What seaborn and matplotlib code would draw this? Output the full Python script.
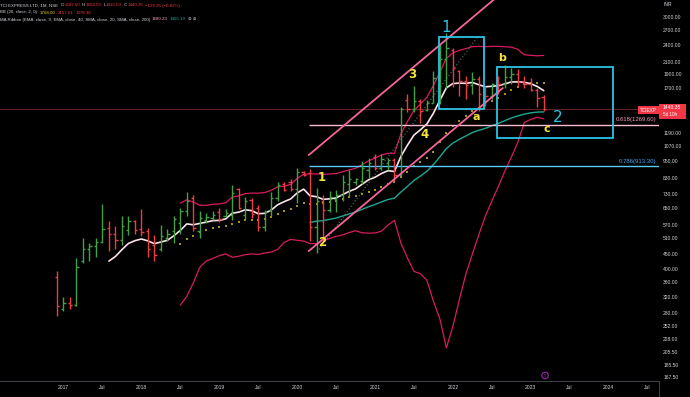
import numpy as np
import pandas as pd
import matplotlib
matplotlib.use("Agg")
import matplotlib.pyplot as plt
import matplotlib.patches as patches
import seaborn as sns

# monthly OHLC, Dec 2016 .. Mar 2023
months = pd.period_range("2016-12", "2023-03", freq="M")
opens = [375, 290, 305, 300, 425, 470, 478, 495, 555, 530, 505, 545, 585, 550, 540, 485, 470, 510, 540, 575,
         635, 705, 540, 590, 600, 630, 612, 615, 755, 615, 695, 650, 560, 640, 705, 790, 800, 760, 870, 860,
         560, 690, 640, 700, 720, 790, 800, 810, 880, 980, 900, 935, 955, 850, 1540, 1440, 1530, 1430, 1510, 1850,
         2150, 2300, 1950, 1800, 1750, 1830, 1650, 1600, 1800, 1760, 1860, 1900, 1790, 1760, 1680, 1587.5]
highs = [392, 318, 320, 435, 510, 490, 510, 670, 585, 565, 610, 610, 590, 645, 553, 523, 567, 550, 611, 650,
         740, 720, 635, 625, 635, 650, 645, 780, 765, 710, 706, 665, 642, 740, 800, 800, 820, 895, 875, 890,
         765, 720, 745, 750, 845, 880, 830, 950, 975, 1005, 1000, 970, 970, 1460, 1620, 1730, 1560, 1550, 1950, 2420,
         2650, 2350, 1970, 1880, 1940, 1880, 1730, 1770, 1880, 2040, 2000, 1980, 1880, 1850, 1700, 1604]
lows = [273, 284, 290, 296, 420, 425, 440, 493, 460, 470, 485, 525, 530, 520, 440, 425, 462, 499, 493, 530,
        610, 540, 510, 575, 593, 583, 606, 590, 645, 590, 600, 540, 540, 611, 690, 745, 745, 675, 840, 500,
        455, 505, 630, 630, 690, 715, 780, 790, 830, 880, 880, 880, 810, 840, 1400, 1400, 1290, 1410, 1510, 1500,
        1700, 1720, 1590, 1560, 1620, 1415, 1470, 1560, 1620, 1700, 1760, 1720, 1700, 1660, 1460, 1415]
closes = [296, 305, 298, 405, 470, 478, 495, 550, 530, 505, 565, 585, 545, 535, 470, 445, 520, 530, 595, 635,
          690, 553, 600, 605, 615, 595, 625, 735, 650, 690, 620, 560, 630, 705, 780, 752, 760, 870, 850, 560,
          690, 640, 710, 725, 800, 820, 820, 900, 930, 900, 960, 955, 850, 1440, 1440, 1530, 1420, 1510, 1850, 2150,
          2350, 2000, 1800, 1750, 1830, 1620, 1600, 1760, 1760, 1860, 1900, 1790, 1760, 1680, 1569.5, 1440.35]

year_labels = ["2017", "Jul", "2018", "Jul", "2019", "Jul", "2020", "Jul", "2021", "Jul",
               "2022", "Jul", "2023", "Jul", "2024", "Jul"]
price_ticks = [3000, 2700, 2400, 2100, 1900, 1700, 1190, 1070, 950, 830, 730, 650, 570, 510,
               450, 400, 360, 320, 280, 252, 228, 205.5, 185.5, 167.5]

BG = "black"
TXT = "#d1d4dc"
GREEN = "#43a047"
RED = "#ef3b45"
HRED = "#f23645"


def ema_tv(values, n):
    s = pd.Series(values, dtype=float)
    out = pd.Series(np.nan, index=s.index)
    out.iloc[n - 1] = s.iloc[:n].mean()
    a = 2 / (n + 1)
    for i in range(n, len(s)):
        out.iloc[i] = a * s.iloc[i] + (1 - a) * out.iloc[i - 1]
    return out


df = pd.DataFrame({"open": opens, "high": highs, "low": lows, "close": closes})
# month index relative to Jan 2017
df["m"] = [(p.year - 2017) * 12 + p.month - 1 for p in months]
df["ema9"] = ema_tv(closes, 9)
df["ema40"] = ema_tv(closes, 40)
df["basis"] = df["close"].rolling(20).mean()
dev = df["close"].rolling(20).std(ddof=0)
df["upper"] = df["basis"] + 2 * dev
df["lower"] = df["basis"] - 2 * dev
df.loc[df["lower"] <= 0, "lower"] = np.nan

sns.set_style("dark")
plt.rcParams["font.family"] = ["Liberation Sans", "DejaVu Sans"]

fig = plt.figure(figsize=(6.9, 3.97), dpi=100, facecolor=BG)
ax = fig.add_axes([0, 16 / 397, 659 / 690, 381 / 397])
ax.set_facecolor(BG)
ax.set_yscale("log")
ax.set_ylim(162.7, 3445)
ax.set_xlim(-9.78, 91.76)

# indicator lines
sns.lineplot(x=df["m"], y=df["upper"], ax=ax, color="#d81b60", lw=0.9)
sns.lineplot(x=df["m"], y=df["lower"], ax=ax, color="#d81b60", lw=0.9)
sns.scatterplot(x=df["m"], y=df["basis"], ax=ax, color="#a39414", marker="s", s=2, linewidth=0)
sns.lineplot(x=df["m"], y=df["ema40"], ax=ax, color="#1fa792", lw=1.0)
sns.lineplot(x=df["m"], y=df["ema9"], ax=ax, color="#fbe3ea", lw=1.2)

# last price line
ax.axhline(closes[-1], color="#5c1f24", lw=0.8, zorder=1)

# OHLC bars
cols = [GREEN if c >= o else RED for o, c in zip(df["open"], df["close"])]
ax.vlines(df["m"], df["low"], df["high"], colors=cols, lw=1.0, zorder=3)
ax.hlines(df["open"], df["m"] - 0.35, df["m"], colors=cols, lw=1.0, zorder=3)
ax.hlines(df["close"], df["m"], df["m"] + 0.35, colors=cols, lw=1.0, zorder=3)

# fib levels
ax.hlines(1269.6, 37.8, 91.76, color="#f8bbd0", lw=1.0, zorder=2)
ax.hlines(913.3, 37.8, 91.76, color="#5ac8fa", lw=1.0, zorder=2)
ax.annotate("0.618(1269.60)", xy=(91.3, 1269.6), xytext=(0, 1.5), textcoords="offset points",
            ha="right", va="bottom", color="#f59ab8", fontsize=4.3)
ax.annotate("0.786(913.30)", xy=(91.3, 913.3), xytext=(0, 1.5), textcoords="offset points",
            ha="right", va="bottom", color="#42a5f5", fontsize=4.3)

# channel + dotted line
ax.plot([37.8, 67.7], [461, 1702], color="#f5659b", lw=1.3, zorder=4)
ax.plot([37.8, 67.7], [995, 3672], color="#f5659b", lw=1.3, zorder=4)
ax.plot([39.06, 63.7], [457, 2543], color="#6b6e78", lw=0.8, ls=(0, (1, 2)), zorder=2)

# boxes
ax.add_patch(patches.Rectangle((57.85, 1439), 64.8 - 57.85, 2563 - 1439, fill=False,
                               ec="#29c5e6", lw=1.3, zorder=5))
ax.add_patch(patches.Rectangle((66.8, 1140), 84.7 - 66.8, 2014 - 1140, fill=False,
                               ec="#29c5e6", lw=1.3, zorder=5))

# wave labels
cyan_lbl = [(59.0, 2754, "1"), (76.1, 1339, "2")]
for x, y, t in cyan_lbl:
    ax.text(x, y, t, color="#29c5e6", fontsize=11, ha="center", va="center", family="DejaVu Sans")
yel_lbl = [(67.6, 2164, "b", 8), (63.6, 1350, "a", 8), (74.5, 1226, "c", 8), (53.7, 1890, "3", 8.5),
           (55.7, 1168, "4", 8.5), (39.8, 828, "1", 8.5), (39.8, 495, "2", 8.5)]
for x, y, t, fs in yel_lbl:
    ax.text(x, y, t, color="#f5e23a", fontsize=fs, ha="center", va="center",
            family="DejaVu Sans", fontweight="bold", zorder=6)

# event marker
ax.scatter([74.2], [170], s=22, facecolors="none", edgecolors="#9c27b0", lw=0.8, zorder=6)
ax.text(74.2, 170, "5", color="#9c27b0", fontsize=3, ha="center", va="center")

# axes
ax.yaxis.tick_right()
ax.set_yticks(price_ticks)
ax.set_yticklabels([f"{v:.2f}" for v in price_ticks])
ax.yaxis.set_minor_locator(matplotlib.ticker.NullLocator())
ax.set_xticks(np.arange(0, 96, 6))
ax.set_xticklabels(year_labels)
ax.tick_params(axis="both", length=0, colors=TXT, labelsize=3.6)
ax.tick_params(axis="y", pad=3)
ax.tick_params(axis="x", pad=3)
ax.set_xlabel("")
ax.set_ylabel("")
ax.grid(False)
for s in ["top", "left", "right"]:
    ax.spines[s].set_visible(False)
ax.spines["bottom"].set_color("#4a4d57")
ax.spines["bottom"].set_linewidth(0.6)
fig.add_artist(plt.Line2D([659 / 690, 659 / 690], [0, 16 / 397], color="#4a4d57", lw=0.6))


def ftext(x, y, t, c, fs=3.4, **kw):
    return fig.text(x / 690, 1 - y / 397, t, color=c, fontsize=fs, va="center", **kw)


# header legend, laid out left to right so pieces never overlap
renderer = fig.canvas.get_renderer()
header = [
    (5.5, [("TCI EXPRESS LTD, 1M, NSE", TXT, 0), ("O", TXT, 2.5), ("1587.50", HRED, 0.3),
           ("H", TXT, 2), ("1604.00", HRED, 0.3), ("L", TXT, 2), ("1415.00", HRED, 0.3),
           ("C", TXT, 2), ("1440.35", HRED, 0.3), ("\u2212129.25 (\u22128.82%)", HRED, 2)]),
    (12.5, [("BB (20, close, 2, 0)", TXT, 0), ("1768.00", "#e8d91c", 3),
            ("2157.61", HRED, 2), ("1378.38", HRED, 2)]),
    (19.5, [("MA Ribbon (EMA, close, 9, EMA, close, 40, SMA, close, 20, SMA, close, 200)", TXT, 0),
            ("1680.23", "#f8a5c2", 2), ("1405.19", "#22ab94", 2), ("\u2298 \u2298", TXT, 2)]),
]
for y, parts in header:
    x = 0.0
    for t, c, gap in parts:
        x += gap
        txt = ftext(x, y, t, c, fs=3.15)
        x = txt.get_window_extent(renderer).x1

ftext(663, 5, "INR", TXT, fs=3.6)

# symbol / last price labels
ftext(648.5, 110, "TCIEXP", "white", fs=3.4, ha="center",
      bbox=dict(boxstyle="square,pad=0.35", fc=HRED, ec="none"))
fig.add_artist(patches.Rectangle((659 / 690, 1 - 118.5 / 397), 27 / 690, 14.5 / 397,
                                 transform=fig.transFigure, fc=HRED, ec="none"))
ftext(663, 107.5, "1440.35", "white", fs=3.6)
ftext(663, 114.5, "5d 10h", "white", fs=3.3)

fig.savefig("out.png", dpi=100, facecolor=BG)
